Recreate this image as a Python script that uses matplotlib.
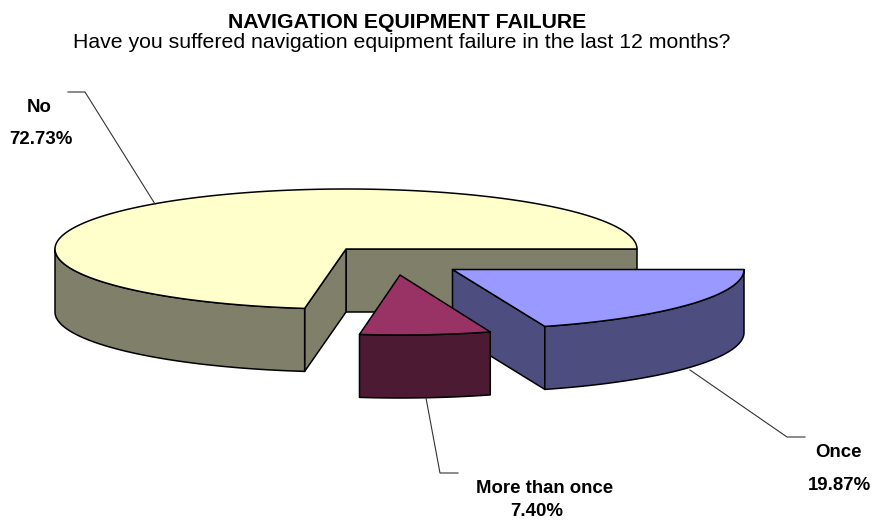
import numpy as np
import matplotlib
matplotlib.use("Agg")
import matplotlib.pyplot as plt
from matplotlib.patches import Polygon

categories = ["No", "More than once", "Once"]
values = [72.73, 7.40, 19.87]

top_colors = ["#FFFFCC", "#993366", "#9999FF"]
side_colors = ["#80806A", "#4D1A33", "#4D4D80"]

# apex of each exploded slice in pixels, and ellipse radii
centers = [(346, 249), (400, 275), (452.5, 269.5)]
radii_x = [291, 285, 291.5]
radius_y = 60
depth = 63

plt.rcParams["font.family"] = ["Liberation Sans", "DejaVu Sans"]

fig = plt.figure(figsize=(8.72, 5.21), dpi=100)
ax = fig.add_axes([0, 0, 1, 1])
ax.set_xlim(0, 872)
ax.set_ylim(521, 0)
ax.axis("off")


def rim(cx, cy, rx, a0, a1):
    # points along the ellipse, angles counted anticlockwise on screen
    t = np.radians(np.linspace(a0, a1, 200))
    return np.column_stack([cx + rx * np.cos(t), cy - radius_y * np.sin(t)])


def face(points, color):
    ax.add_patch(Polygon(points, closed=True, facecolor=color, edgecolor="black",
                         linewidth=1.1, joinstyle="round"))


def drop(points):
    return points + np.array([0, depth])


# slice angles from the values
ends = np.cumsum(values) * 3.6
starts = np.concatenate([[0], ends[:-1]])


def draw_slice(i):
    cx, cy = centers[i]
    rx = radii_x[i]
    a0, a1 = starts[i], ends[i]
    apex = np.array([[cx, cy]])

    # flat cut faces first
    if a0 == 0:
        edge = np.array([[cx, cy], [cx + rx, cy]])
        face(np.vstack([edge, drop(edge)[::-1]]), side_colors[i])
    end_pt = rim(cx, cy, rx, a1, a1)[:1]
    start_pt = rim(cx, cy, rx, a0, a0)[:1]
    if i == 0:
        edge = np.vstack([apex, end_pt])
        face(np.vstack([edge, drop(edge)[::-1]]), side_colors[i])
    if i == 2:
        edge = np.vstack([apex, start_pt])
        face(np.vstack([edge, drop(edge)[::-1]]), side_colors[i])

    # outer wall, only the front half of the ellipse shows
    front = rim(cx, cy, rx, max(a0, 180), a1)
    face(np.vstack([front, drop(front)[::-1]]), side_colors[i])

    # top
    face(np.vstack([apex, rim(cx, cy, rx, a0, a1)]), top_colors[i])


for i in [0, 2, 1]:
    draw_slice(i)

# leader lines
ax.plot([68, 85, 155], [92, 92, 204], color="#333333", lw=0.8)
ax.plot([426, 440, 458], [398, 473, 473], color="#333333", lw=0.8)
ax.plot([690, 787, 805], [370, 437, 437], color="#333333", lw=0.8)

# label baselines, name then percent
label_pos = [((39, 111.5), (41, 144)), ((545, 493), (537, 516.5)), ((838, 457), (839, 490.5))]
for name, val, (p1, p2) in zip(categories, values, label_pos):
    ax.text(p1[0], p1[1], name, fontsize=13.4, fontweight="bold", ha="center", va="baseline")
    ax.text(p2[0], p2[1], f"{val:.2f}%", fontsize=13.4, fontweight="bold", ha="center", va="baseline")

ax.text(407, 28, "NAVIGATION EQUIPMENT FAILURE", fontsize=15.3, fontweight="bold",
        ha="center", va="baseline")
ax.text(402, 48, "Have you suffered navigation equipment failure in the last 12 months?",
        fontsize=15.3, ha="center", va="baseline")

fig.savefig("out.png", dpi=100)
